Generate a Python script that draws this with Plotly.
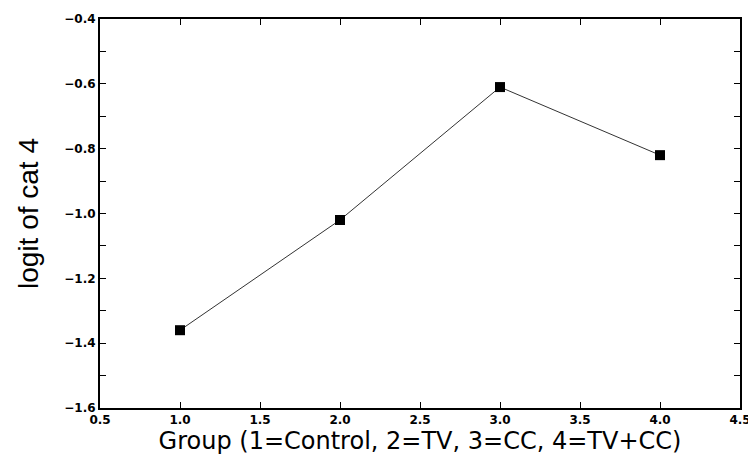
import plotly.graph_objects as go

groups = [1, 2, 3, 4]
logit_cat4 = [-1.36, -1.02, -0.61, -0.82]
x_ticks = [0.5, 1.0, 1.5, 2.0, 2.5, 3.0, 3.5, 4.0, 4.5]
y_ticks = [-1.6, -1.4, -1.2, -1.0, -0.8, -0.6, -0.4]

fig = go.Figure()
fig.add_trace(go.Scatter(
    x=groups, y=logit_cat4, mode="lines+markers",
    line=dict(color="#333333", width=1),
    marker=dict(symbol="square", size=10, color="black"),
    showlegend=False,
))

tickfont = dict(family="DejaVu Sans", size=12, color="black", weight="bold")
xtitlefont = dict(family="DejaVu Sans", size=24, color="black")
ytitlefont = dict(family="Liberation Sans", size=28, color="black")

fig.update_xaxes(
    range=[0.5, 4.5], tickvals=x_ticks, ticktext=[f"{v:.1f}" for v in x_ticks],
    ticks="inside", ticklen=6, tickcolor="black", tickwidth=1,
    showline=True, linecolor="black", linewidth=2, mirror="ticks",
    showgrid=False, zeroline=False, tickfont=tickfont,
    title=dict(text="Group (1=Control, 2=TV, 3=CC, 4=TV+CC)", font=xtitlefont, standoff=5),
)
fig.update_yaxes(
    range=[-1.6, -0.4], tickvals=y_ticks, ticktext=[f"{v:.1f}".replace("-", "\u2212") for v in y_ticks],
    ticks="inside", ticklen=6, tickcolor="black", tickwidth=1,
    minor=dict(dtick=0.1, tick0=-1.6, ticks="inside", ticklen=6, tickcolor="black", showgrid=False),
    showline=True, linecolor="black", linewidth=2, mirror="allticks",
    showgrid=False, zeroline=False, tickfont=tickfont,
    title=dict(text="logit of cat 4", font=ytitlefont, standoff=17),
)
fig.update_layout(
    width=756, height=467,
    margin=dict(l=92, r=24, t=11, b=67, autoexpand=False),
    plot_bgcolor="white", paper_bgcolor="white",
)
fig.write_html("out.html")
